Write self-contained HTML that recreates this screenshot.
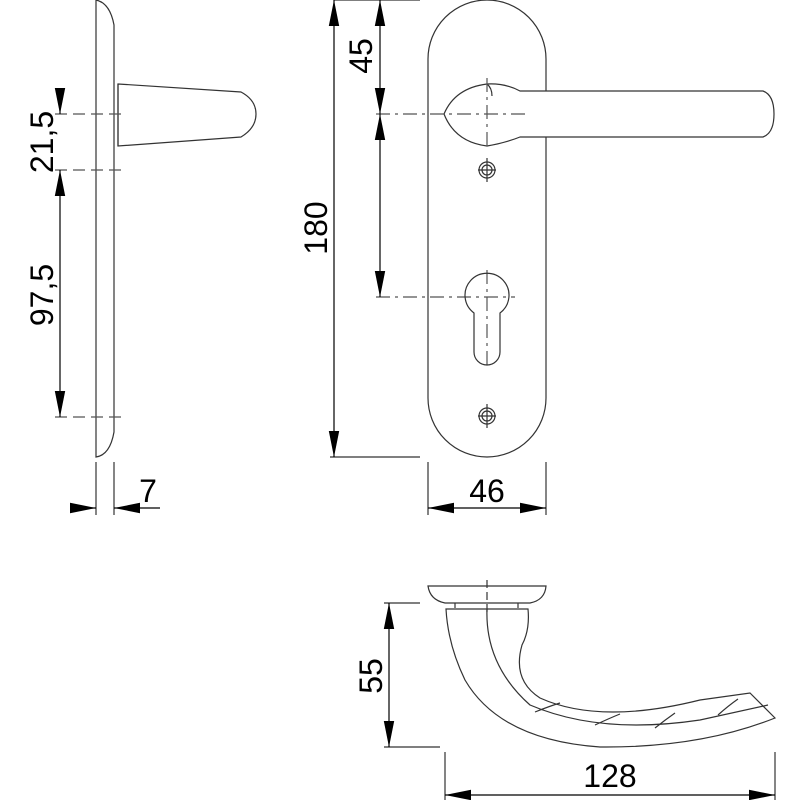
<!DOCTYPE html>
<html><head><meta charset="utf-8"><style>html,body{margin:0;padding:0;background:#fff}svg{display:block}</style></head>
<body>
<svg width="800" height="800" viewBox="0 0 800 800" xmlns="http://www.w3.org/2000/svg" font-family="Liberation Sans, sans-serif" font-size="32">
<defs>
<marker id="a" viewBox="0 0 10 10" refX="10" refY="5" markerWidth="26" markerHeight="26" markerUnits="userSpaceOnUse" orient="auto-start-reverse"><path d="M0,3 L10,5 L0,7 z" fill="#000"/></marker>
</defs>
<g fill="none" stroke="#333" stroke-width="1.2">
<!-- left side view -->
<path d="M96,0 L96,457 Q110,455 114,432 L114,25 Q110,3 96,0"/>
<path d="M118,84 L241,92 Q256,100 256,114 Q256,128 241,137 L118,146 Z"/>
<line x1="118" y1="84" x2="118" y2="146"/>
<g stroke-dasharray="12,6" stroke="#555"><line x1="55" y1="114" x2="122" y2="114"/><line x1="55" y1="170" x2="122" y2="170"/><line x1="55" y1="417" x2="122" y2="417"/></g>
<line x1="60" y1="90" x2="60" y2="114" stroke="#000" marker-end="url(#a)"/>
<line x1="60" y1="170" x2="60" y2="417" stroke="#000" marker-start="url(#a)" marker-end="url(#a)"/>
<line x1="96" y1="462" x2="96" y2="515"/><line x1="114" y1="462" x2="114" y2="515"/>
<line x1="70" y1="508" x2="96" y2="508" stroke="#000" marker-end="url(#a)"/>
<line x1="160" y1="508" x2="114" y2="508" stroke="#000" marker-end="url(#a)"/>
<!-- front view -->
<rect x="428" y="0" width="118" height="457" rx="59" ry="59"/>
<path fill="#fff" d="M487,84 Q455,88 444,114 Q455,142 487,146 Q505,143 520,137 L763,137 Q774,133 774,114 Q774,95 763,91 L520,91 Q505,83 487,84 Z"/>
<path d="M487,84 Q492,88 492,96"/>
<g stroke-dasharray="14,5,3,5" stroke="#555"><line x1="487" y1="78" x2="487" y2="150"/><line x1="376" y1="114" x2="528" y2="114"/><line x1="376" y1="297" x2="515" y2="297"/><line x1="487" y1="270" x2="487" y2="366"/></g>
<circle cx="487" cy="170" r="8"/><circle cx="487" cy="170" r="5"/><line x1="478" y1="170" x2="496" y2="170"/><line x1="487" y1="158" x2="487" y2="182"/>
<circle cx="487" cy="416" r="8"/><circle cx="487" cy="416" r="5"/><line x1="478" y1="416" x2="496" y2="416"/><line x1="487" y1="404" x2="487" y2="428"/>
<path d="M474,313 A22,22 0 1 1 500,313 L500,352 A13,13 0 0 1 474,352 Z"/>
<line x1="334" y1="0" x2="420" y2="0"/><line x1="330" y1="457" x2="420" y2="457"/>
<line x1="334" y1="0" x2="334" y2="457" stroke="#000" marker-start="url(#a)" marker-end="url(#a)"/>
<line x1="380" y1="0" x2="380" y2="114" stroke="#000" marker-start="url(#a)" marker-end="url(#a)"/>
<line x1="380" y1="114" x2="380" y2="297" stroke="#000" marker-start="url(#a)" marker-end="url(#a)"/>
<line x1="428" y1="462" x2="428" y2="515"/><line x1="546" y1="462" x2="546" y2="515"/>
<line x1="428" y1="508" x2="546" y2="508" stroke="#000" marker-start="url(#a)" marker-end="url(#a)"/>
<!-- bottom view -->
<path d="M428,586 L546,586 Q545,600 530,603 L445,603 Q430,600 428,586 Z"/>
<line x1="455" y1="603" x2="455" y2="608"/><line x1="518" y1="603" x2="518" y2="608"/>
<path d="M446,609 L528,609 Q530,630 522,645 Q512,680 540,698 Q600,725 700,700 L750,693 L775,718 Q700,748 600,747 Q500,740 465,680 Q448,645 446,609 Z"/>
<path d="M487,609 Q485,665 530,705 Q600,735 700,720 L768,705"/>
<path d="M535,712 Q550,706 560,703 M595,725 Q610,718 620,714 M655,728 Q665,720 675,713 M718,715 Q728,706 738,699"/>
<line x1="487" y1="580" x2="487" y2="612" stroke-dasharray="8,4"/>
<line x1="384" y1="603" x2="420" y2="603"/><line x1="384" y1="747" x2="440" y2="747"/>
<line x1="389" y1="603" x2="389" y2="747" stroke="#000" marker-start="url(#a)" marker-end="url(#a)"/>
<line x1="445" y1="752" x2="445" y2="800"/><line x1="775" y1="752" x2="775" y2="800"/>
<line x1="445" y1="795" x2="775" y2="795" stroke="#000" marker-start="url(#a)" marker-end="url(#a)"/>
</g>
<g fill="#000">
<text transform="translate(53,142) rotate(-90)" text-anchor="middle">21,5</text>
<text transform="translate(53,295) rotate(-90)" text-anchor="middle">97,5</text>
<text x="148" y="502" text-anchor="middle">7</text>
<text transform="translate(372,56) rotate(-90)" text-anchor="middle">45</text>
<text transform="translate(327,228) rotate(-90)" text-anchor="middle">180</text>
<text x="487" y="502" text-anchor="middle">46</text>
<text transform="translate(382,676) rotate(-90)" text-anchor="middle">55</text>
<text x="610" y="787" text-anchor="middle">128</text>
</g>
</svg>
</body></html>
